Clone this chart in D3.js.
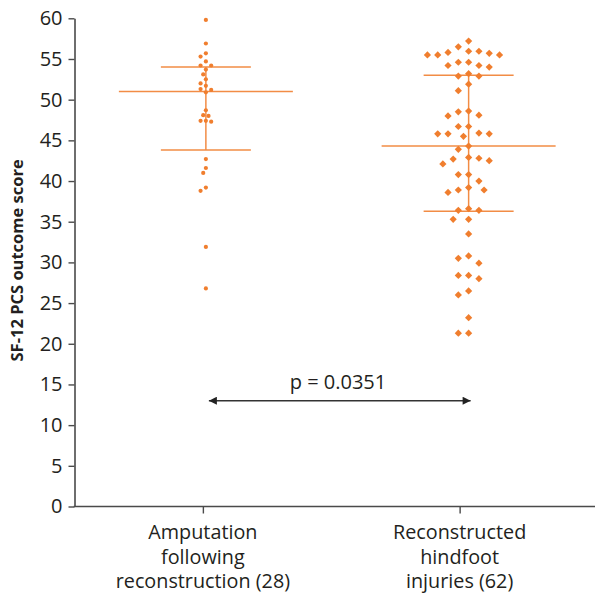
<!DOCTYPE html>
<html>
<head>
<meta charset="utf-8">
<script src="https://cdn.jsdelivr.net/npm/d3@7"></script>
<style>
  html, body { margin: 0; padding: 0; background: #fff; }
  svg { display: block; }
  text { font-family: "Open Sans", "Noto Sans", sans-serif; }
</style>
</head>
<body>
<svg id="chart" width="595" height="596"></svg>
<script>
// ---------- data ----------
const categories = ["Amputation following reconstruction (28)", "Reconstructed hindfoot injuries (62)"];
const categoryLines = [
  ["Amputation", "following", "reconstruction (28)"],
  ["Reconstructed", "hindfoot", "injuries (62)"]
];
const amputationScores = [
  59.8, 56.9, 55.7, 55.3, 54.7, 54.2, 54.2, 53.7, 53.1, 52.5, 52.0, 51.7, 51.3, 51.2,
  50.9, 48.7, 48.1, 48.0, 47.4, 47.4, 47.3, 42.7, 41.6, 41.0, 39.2, 38.8, 31.9, 26.8
];
const reconstructedScores = [
  57.2, 56.5, 55.95, 55.8, 55.5, 55.5, 55.5, 55.7, 55.95, 54.2, 54.0, 54.6, 54.6, 54.2,
  52.9, 52.9, 53.2, 51.9, 51.1, 48.6, 48.5, 48.1, 48.0, 46.7, 46.7, 45.8, 45.8, 45.5,
  45.8, 45.9, 44.3, 43.9, 42.9, 42.7, 42.1, 42.5, 42.8, 40.8, 40.8, 40.0, 38.9, 38.6,
  38.9, 39.2, 36.4, 36.6, 36.4, 35.3, 35.3, 33.5, 30.8, 30.5, 29.9, 28.4, 28.4, 28.0,
  26.5, 26.0, 23.2, 21.3, 21.3
];
const medians = [51.0, 44.3];
const upperQuartiles = [54.0, 53.0];
const lowerQuartiles = [43.8, 36.3];
const yTicks = [0, 5, 10, 15, 20, 25, 30, 35, 40, 45, 50, 55, 60];
const yAxisTitle = "SF-12 PCS outcome score";
const pValueLabel = "p = 0.0351";
const comparisonLevel = 13;

// ---------- layout / style ----------
const svg = d3.select("#chart");
const axisX = 74.5, axisBottom = 506.5, axisTop = 18.3, rightEdge = 595;
const orange = "#F07E2E";
const lineOrange = "#F28C45";
const axisColor = "#4a4a4a";
const textColor = "#231f20";

const y = d3.scaleLinear().domain([0, 60]).range([axisBottom, axisTop]);
const x = d3.scalePoint().domain(categories).range([axisX, 588]).padding(0.5);
const columnShift = [3, 9];   // data columns sit slightly right of tick marks
const groups = [
  { scores: amputationScores, shape: "dot", step: 2.65, minDist: 5.0, medHalf: 87, qHalf: 45 },
  { scores: reconstructedScores, shape: "diamond", step: 5.15, minDist: 10.0, medHalf: 87, qHalf: 45 }
];

// ---------- y axis ----------
const yAxis = d3.axisLeft(y).tickValues(yTicks).tickSize(6).tickPadding(6).tickSizeOuter(0);
const gy = svg.append("g").attr("transform", `translate(${axisX},0)`).call(yAxis);
gy.select(".domain").attr("stroke", axisColor).attr("stroke-width", 1.6);
gy.selectAll(".tick line").attr("stroke", axisColor).attr("stroke-width", 1.4);
gy.selectAll(".tick text").attr("fill", textColor).style("font-size", "20px")
  .style("font-family", "'Open Sans', sans-serif");

svg.append("text")
  .attr("transform", `translate(23,${(y(0) + y(60)) / 2 - 2}) rotate(-90)`)
  .attr("text-anchor", "middle")
  .attr("fill", textColor)
  .style("font-size", "16.5px").style("font-weight", "bold")
  .text(yAxisTitle);

// ---------- x axis ----------
const xAxis = d3.axisBottom(x).tickSize(7).tickFormat("").tickSizeOuter(0);
const gx = svg.append("g").attr("transform", `translate(0,${axisBottom})`).call(xAxis);
gx.select(".domain").remove();
gx.selectAll(".tick line").attr("stroke", axisColor).attr("stroke-width", 1.4);
svg.append("line").attr("x1", axisX - 0.8).attr("x2", rightEdge)
  .attr("y1", axisBottom).attr("y2", axisBottom)
  .attr("stroke", axisColor).attr("stroke-width", 1.6);

categories.forEach((c, i) => {
  const t = svg.append("text").attr("text-anchor", "middle").attr("fill", textColor)
    .style("font-size", "19.8px");
  categoryLines[i].forEach((ln, j) => {
    t.append("tspan").attr("x", x(c)).attr("y", 539 + j * 24.5).text(ln);
  });
});

// ---------- beeswarm ----------
function swarm(values, cx, step, minDist) {
  const order = values.map((v, i) => i).sort((a, b) => values[b] - values[a]);
  const placed = [];
  const out = new Array(values.length);
  order.forEach(i => {
    const py = y(values[i]);
    for (let k = 0; k < 40; k++) {
      const cand = k === 0 ? [0] : [-k, k];
      let done = false;
      for (const m of cand) {
        const px = cx + m * step;
        const ok = placed.every(p => Math.hypot(p.x - px, p.y - py) >= minDist - 0.01);
        if (ok) { out[i] = { x: px, y: py }; placed.push(out[i]); done = true; break; }
      }
      if (done) break;
    }
  });
  return out;
}

groups.forEach((g, i) => {
  const cx = x(categories[i]) + columnShift[i];
  const lg = svg.append("g").attr("stroke", lineOrange).attr("stroke-width", 1.5);
  lg.append("line").attr("x1", cx - g.medHalf).attr("x2", cx + g.medHalf)
    .attr("y1", y(medians[i])).attr("y2", y(medians[i]));
  lg.append("line").attr("x1", cx - g.qHalf).attr("x2", cx + g.qHalf)
    .attr("y1", y(upperQuartiles[i])).attr("y2", y(upperQuartiles[i]));
  lg.append("line").attr("x1", cx - g.qHalf).attr("x2", cx + g.qHalf)
    .attr("y1", y(lowerQuartiles[i])).attr("y2", y(lowerQuartiles[i]));
  lg.append("line").attr("x1", cx).attr("x2", cx)
    .attr("y1", y(upperQuartiles[i])).attr("y2", y(lowerQuartiles[i]));

  const pts = swarm(g.scores, cx, g.step, g.minDist);
  const pg = svg.append("g").attr("fill", orange);
  if (g.shape === "dot") {
    pg.selectAll("circle").data(pts).join("circle")
      .attr("cx", d => d.x).attr("cy", d => d.y).attr("r", 2.1);
  } else {
    const sym = d3.symbol().type(d3.symbolSquare).size(26);
    pg.selectAll("path").data(pts).join("path")
      .attr("d", sym)
      .attr("transform", d => `translate(${d.x},${d.y}) rotate(45)`);
  }
});

// ---------- comparison arrow ----------
const defs = svg.append("defs");
["start", "end"].forEach(id => {
  defs.append("marker").attr("id", "arrow-" + id)
    .attr("viewBox", "0 0 10 10").attr("refX", id === "end" ? 10 : 0).attr("refY", 5)
    .attr("markerWidth", 9).attr("markerHeight", 8).attr("markerUnits", "userSpaceOnUse")
    .attr("orient", "auto")
    .append("path")
    .attr("d", id === "end" ? "M0,0 L10,5 L0,10 Z" : "M10,0 L0,5 L10,10 Z")
    .attr("fill", "#222");
});
const ax1 = x(categories[0]) + 6, ax2 = x(categories[1]) + 11;
svg.append("line")
  .attr("x1", ax1).attr("x2", ax2)
  .attr("y1", y(comparisonLevel)).attr("y2", y(comparisonLevel))
  .attr("stroke", "#333").attr("stroke-width", 1.5)
  .attr("marker-start", "url(#arrow-start)").attr("marker-end", "url(#arrow-end)");
svg.append("text")
  .attr("x", 338).attr("y", y(comparisonLevel) - 12)
  .attr("text-anchor", "middle").attr("fill", textColor)
  .style("font-size", "20px")
  .text(pValueLabel);
</script>
</body>
</html>
